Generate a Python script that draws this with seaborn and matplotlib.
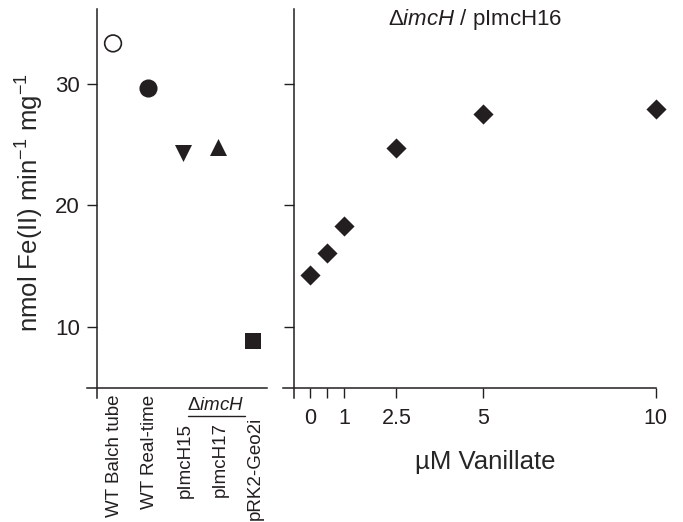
import numpy as np
import matplotlib
matplotlib.use('Agg')
import matplotlib.pyplot as plt
import seaborn as sns

# left panel: strains
strains = ['WT Balch tube', 'WT Real-time', 'pImcH15', 'pImcH17', 'pRK2-Geo2i']
strain_rates = [33.3, 29.6, 24.3, 24.8, 8.85]
strain_markers = ['o', 'o', 'v', '^', 's']
strain_filled = [False, True, True, True, True]

# right panel: vanillate induction of pImcH16
vanillate = [0, 0.5, 1, 2.5, 5, 10]
vanillate_rates = [14.3, 16.1, 18.3, 24.7, 27.5, 27.9]
vanillate_ticks = [0, 0.5, 1, 2.5, 5, 10]
vanillate_ticklabels = ['0', '', '1', '2.5', '5', '10']

sns.set_style('ticks')
ink = '#231f20'
plt.rcParams['font.family'] = ['Liberation Sans', 'DejaVu Sans']
plt.rcParams['mathtext.fontset'] = 'custom'
plt.rcParams['mathtext.rm'] = 'Liberation Sans'
plt.rcParams['mathtext.it'] = 'Liberation Sans:italic'
plt.rcParams['text.color'] = ink
plt.rcParams['axes.edgecolor'] = ink
plt.rcParams['xtick.color'] = ink
plt.rcParams['ytick.color'] = ink

fig, (ax1, ax2) = plt.subplots(1, 2, figsize=(6.83, 5.22), dpi=100,
                               gridspec_kw=dict(width_ratios=[170, 361]))
fig.subplots_adjust(left=97 / 683, right=655.7 / 683, bottom=1 - 388 / 522,
                    top=1 - 9.3 / 522, wspace=0.1)

sizes = {'o': 170, 'v': 150, '^': 150, 's': 135}
pos = np.arange(len(strains))
for i in range(len(strains)):
    m = strain_markers[i]
    if strain_filled[i]:
        sns.scatterplot(x=[pos[i]], y=[strain_rates[i]], marker=m, s=sizes[m],
                        color=ink, edgecolor=ink, linewidth=0, ax=ax1, clip_on=False)
    else:
        sns.scatterplot(x=[pos[i]], y=[strain_rates[i]], marker=m, s=sizes[m] * 0.85,
                        facecolor='none', edgecolor=ink, linewidth=1.2, ax=ax1, clip_on=False)

sns.scatterplot(x=vanillate, y=vanillate_rates, marker='D', s=105, color=ink,
                edgecolor=ink, linewidth=0, ax=ax2, clip_on=False)

for ax in (ax1, ax2):
    ax.set_ylim(5, 36.1)
    ax.set_yticks([10, 20, 30])
    ax.spines['top'].set_visible(False)
    ax.spines['right'].set_visible(False)
    ax.spines['left'].set_linewidth(1.1)
    ax.spines['bottom'].set_linewidth(1.1)
    ax.spines['left'].set_bounds(4.19, 36.1)
    ax.tick_params(direction='out', length=7.2, width=1.0, pad=5)
    ax.tick_params(axis='y', labelsize=16)
    ax.tick_params(axis='x', labelsize=15.5, pad=7)

ax1.set_xlim(-0.457, 4.4)
ax1.spines['bottom'].set_bounds(-0.74, 4.4)
ax1.set_xticks([])
ax1.set_ylabel(r'nmol Fe(II) min$^{-1}$ mg$^{-1}$', fontsize=18.5)
ax1.yaxis.set_label_coords(-0.30, 0.49)

label_tops = [-0.016, -0.018, -0.092, -0.090, -0.077]
trans = ax1.get_xaxis_transform()
for i, lab in enumerate(strains):
    ax1.text(pos[i] + 0.05, label_tops[i], lab, rotation=90, ha='center', va='top',
             fontsize=13.5, transform=trans)
ax1.text(2.93, -0.047, r'$\Delta\mathit{imcH}$', ha='center', va='center',
         fontsize=13.5, transform=trans)
ax1.plot([2.14, 3.77], [-0.073, -0.073], color=ink, lw=1.0, transform=trans,
         clip_on=False)

ax2.set_xlim(-0.46, 10)
ax2.spines['bottom'].set_bounds(-0.78, 10)
ax2.set_xticks(vanillate_ticks)
ax2.set_xticklabels(vanillate_ticklabels)
ax2.tick_params(axis='y', labelleft=False)
ax2.set_ylabel('')
ax2.set_xlabel(u'\u00b5M Vanillate', fontsize=18.5)
ax2.xaxis.set_label_coords(0.53, -0.164)
ax2.text(0.5, 0.974, r'$\Delta\mathit{imcH}$ / pImcH16', ha='center', va='center',
         fontsize=16, transform=ax2.transAxes)

fig.savefig('out.png', dpi=100)
